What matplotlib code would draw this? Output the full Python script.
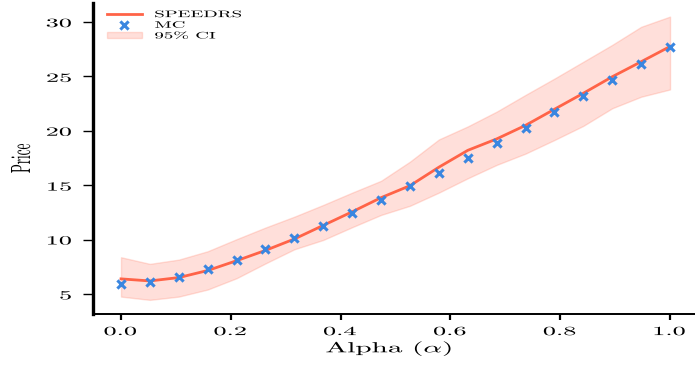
import numpy as np
import matplotlib
matplotlib.use('Agg')
from matplotlib import pyplot as plt
import matplotlib.patheffects as pe
from matplotlib.transforms import Affine2D

# values
alpha = np.linspace(0, 1, 20)
speedrs = [6.38, 6.19, 6.5, 7.15, 8.05, 9.0, 10.05, 11.3, 12.55, 13.85,
           14.95, 16.65, 18.2, 19.25, 20.5, 21.98, 23.45, 24.97, 26.35, 27.75]
mc = [5.92, 6.07, 6.59, 7.27, 8.12, 9.1, 10.15, 11.25, 12.45, 13.64,
      14.9, 16.15, 17.48, 18.86, 20.25, 21.7, 23.2, 24.67, 26.18, 27.7]
ci_low = [4.75, 4.45, 4.75, 5.4, 6.44, 7.8, 9.1, 9.96, 11.13, 12.26,
          13.1, 14.31, 15.63, 16.86, 17.9, 19.15, 20.45, 22.07, 23.13, 23.8]
ci_high = [8.37, 7.76, 8.15, 8.92, 10.03, 11.1, 12.1, 13.18, 14.31, 15.4,
           17.16, 19.2, 20.4, 21.76, 23.3, 24.8, 26.35, 27.9, 29.56, 30.5]

xticks = [0.0, 0.2, 0.4, 0.6, 0.8, 1.0]
yticks = [5, 10, 15, 20, 25, 30]

plt.rcParams['font.family'] = 'serif'
plt.rcParams['font.serif'] = ['cmr10']
plt.rcParams['mathtext.fontset'] = 'cm'
plt.rcParams['axes.formatter.use_mathtext'] = True


# the reference text is drawn wide, so stretch glyphs sideways when drawing
class StretchX(pe.AbstractPathEffect):
    def __init__(self, sx=2.1, anchor='center'):
        super().__init__()
        self.sx = sx
        self.anchor = anchor

    def draw_path(self, renderer, gc, tpath, affine, rgbFace=None):
        bb = tpath.get_extents(affine)
        if self.anchor == 'left':
            x0 = bb.x0
        elif self.anchor == 'right':
            x0 = bb.x1
        else:
            x0 = (bb.x0 + bb.x1) / 2
        st = affine + Affine2D().translate(-x0, 0).scale(self.sx, 1).translate(x0, 0)
        renderer.draw_path(gc, tpath, st, rgbFace)


fig = plt.figure(figsize=(6.95, 3.65), dpi=100)
ax = fig.add_axes([93 / 695, 51 / 365, 604.5 / 695, 311 / 365])

ax.fill_between(alpha, ci_low, ci_high, color='tomato', alpha=0.2, label='95% CI')
ax.plot(alpha, speedrs, color='tomato', linewidth=2, label='SPEEDRS')
ax.scatter(alpha, mc, marker='x', color='#3a86e0', s=35, linewidths=2.2, zorder=3, label='MC')

ax.set_xlim(-0.051, 1.05)
ax.set_ylim(3.15, 31.75)
ax.set_xticks(xticks)
ax.set_yticks(yticks)

ax.set_xlabel(r'Alpha ($\alpha$)', fontsize=10.5)
ax.xaxis.set_label_coords(0.49, -0.078)
ax.set_ylabel('Price', fontsize=9.5)
ax.yaxis.label.set_va('center')
ax.yaxis.set_label_coords((22 - 93) / 604.5, 0.5)

for s in ['top', 'right']:
    ax.spines[s].set_visible(False)
ax.spines['left'].set_linewidth(2.4)
ax.spines['bottom'].set_linewidth(1.4)
ax.tick_params(axis='x', direction='out', length=4, width=1.6, pad=4, labelsize=9)
ax.tick_params(axis='y', direction='out', length=7.5, width=1, pad=7, labelsize=9)

handles, labels = ax.get_legend_handles_labels()
order = [labels.index('SPEEDRS'), labels.index('MC'), labels.index('95% CI')]
leg = ax.legend([handles[i] for i in order], [labels[i] for i in order],
                loc='upper left', bbox_to_anchor=(0.0197, 0.982), borderaxespad=0,
                borderpad=0.2, frameon=False, fontsize=6.8, handlelength=3.7,
                handletextpad=1.38, labelspacing=0.22)

fig.canvas.draw()
for t in ax.get_xticklabels():
    t.set_path_effects([StretchX(2.1, 'center')])
for t in ax.get_yticklabels():
    t.set_path_effects([StretchX(2.1, 'right')])
for t in leg.get_texts():
    t.set_path_effects([StretchX(2.0, 'left')])
ax.xaxis.label.set_path_effects([StretchX(2.0, 'center')])
ax.yaxis.label.set_path_effects([StretchX(2.1, 'center')])

plt.savefig('out.png', dpi=100)
plt.close()
